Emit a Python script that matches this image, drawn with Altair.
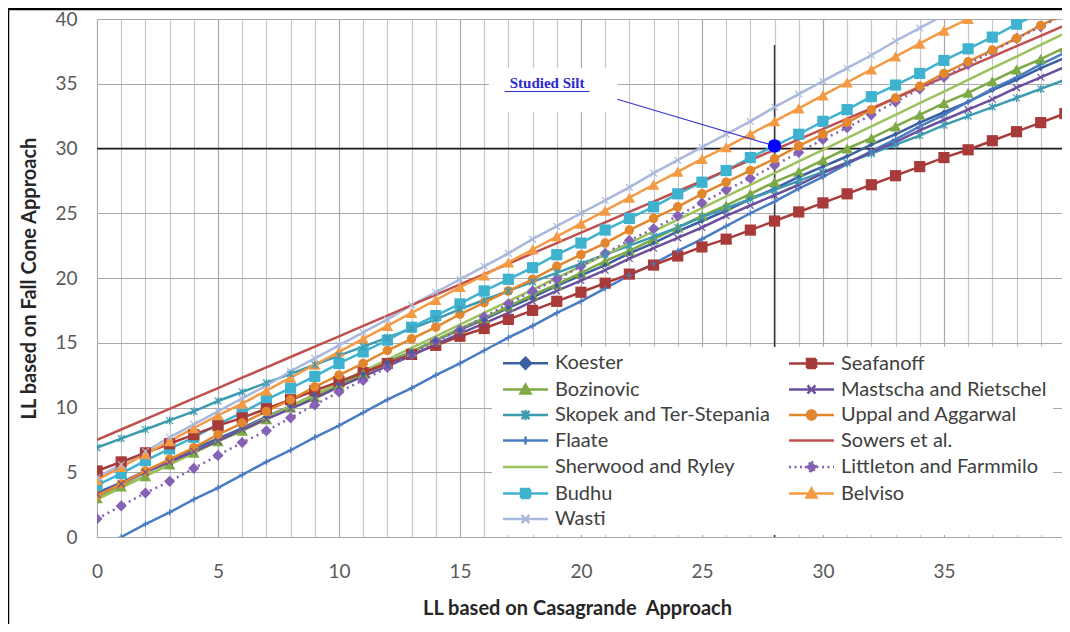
import altair as alt
import pandas as pd

# ---------------- data ----------------
XS = list(range(0, 41))
XS_FLAATE = list(range(1, 41))

KOESTER = [3.4, 4.2, 5.1, 5.9, 6.8, 7.6, 8.4, 9.3, 10.1, 11.0, 11.8, 12.6, 13.5, 14.3, 15.2, 16.0, 16.8,
           17.7, 18.5, 19.4, 20.2, 21.0, 21.9, 22.7, 23.6, 24.4, 25.2, 26.1, 26.9, 27.8, 28.6, 29.4,
           30.3, 31.1, 32.0, 32.8, 33.6, 34.5, 35.3, 36.2, 37.0]
SEAFANOFF = [5.1, 5.8, 6.5, 7.2, 7.9, 8.6, 9.2, 9.9, 10.6, 11.3, 12.0, 12.7, 13.4, 14.1, 14.8, 15.5, 16.1,
             16.8, 17.5, 18.2, 18.9, 19.6, 20.3, 21.0, 21.7, 22.4, 23.0, 23.7, 24.4, 25.1, 25.8, 26.5,
             27.2, 27.9, 28.6, 29.3, 29.9, 30.6, 31.3, 32.0, 32.7]
BOZINOVIC = [3.0, 3.9, 4.7, 5.6, 6.5, 7.4, 8.2, 9.1, 10.0, 10.8, 11.7, 12.6, 13.4, 14.3, 15.2, 16.1, 16.9,
             17.8, 18.7, 19.5, 20.4, 21.3, 22.1, 23.0, 23.9, 24.8, 25.6, 26.5, 27.4, 28.2, 29.1, 30.0,
             30.8, 31.7, 32.6, 33.5, 34.3, 35.2, 36.1, 36.9, 37.8]
MASTSCHA = [3.3, 4.1, 5.0, 5.8, 6.6, 7.4, 8.3, 9.1, 9.9, 10.7, 11.6, 12.4, 13.2, 14.0, 14.9, 15.7, 16.5,
            17.3, 18.2, 19.0, 19.8, 20.6, 21.5, 22.3, 23.1, 23.9, 24.8, 25.6, 26.4, 27.2, 28.1, 28.9,
            29.7, 30.5, 31.4, 32.2, 33.0, 33.8, 34.7, 35.5, 36.3]
SKOPEK = [6.9, 7.6, 8.3, 9.0, 9.7, 10.5, 11.2, 11.9, 12.6, 13.3, 14.0, 14.7, 15.4, 16.1, 16.8, 17.6, 18.3,
          19.0, 19.7, 20.4, 21.1, 21.8, 22.5, 23.2, 23.9, 24.7, 25.4, 26.1, 26.8, 27.5, 28.2, 28.9,
          29.6, 30.3, 31.0, 31.8, 32.5, 33.2, 33.9, 34.6, 35.3]
UPPAL = [3.2, 4.1, 5.1, 6.0, 6.9, 7.9, 8.8, 9.7, 10.6, 11.6, 12.5, 13.4, 14.4, 15.3, 16.2, 17.2, 18.1,
         19.0, 19.9, 20.9, 21.8, 22.7, 23.7, 24.6, 25.5, 26.5, 27.4, 28.3, 29.2, 30.2, 31.1, 32.0,
         33.0, 33.9, 34.8, 35.8, 36.7, 37.6, 38.5, 39.5, 40.4]
FLAATE = [0.0, 1.0, 1.9, 2.9, 3.8, 4.8, 5.8, 6.7, 7.7, 8.6, 9.6, 10.6, 11.5, 12.5, 13.4, 14.4, 15.4,
          16.3, 17.3, 18.2, 19.2, 20.2, 21.1, 22.1, 23.0, 24.0, 25.0, 25.9, 26.9, 27.8, 28.8, 29.8,
          30.7, 31.7, 32.6, 33.6, 34.6, 35.5, 36.5, 37.4]
SOWERS = [7.5, 8.3, 9.1, 9.9, 10.7, 11.5, 12.3, 13.1, 13.9, 14.7, 15.5, 16.3, 17.1, 17.9, 18.7, 19.5, 20.3,
          21.1, 21.9, 22.7, 23.5, 24.3, 25.1, 25.9, 26.7, 27.5, 28.3, 29.1, 29.9, 30.7, 31.5, 32.3,
          33.1, 33.9, 34.7, 35.5, 36.3, 37.1, 37.9, 38.7, 39.5]
SHERWOOD = [2.9, 3.8, 4.7, 5.6, 6.5, 7.4, 8.3, 9.2, 10.1, 11.0, 11.9, 12.8, 13.7, 14.6, 15.5, 16.4, 17.3,
            18.2, 19.1, 20.0, 20.9, 21.8, 22.7, 23.6, 24.5, 25.4, 26.3, 27.2, 28.1, 29.0, 29.9, 30.8,
            31.7, 32.6, 33.5, 34.4, 35.3, 36.2, 37.1, 38.0, 38.9]
LITTLETON = [1.4, 2.4, 3.4, 4.3, 5.3, 6.3, 7.3, 8.2, 9.2, 10.2, 11.2, 12.1, 13.1, 14.1, 15.1, 16.0, 17.0,
             18.0, 19.0, 19.9, 20.9, 21.9, 22.9, 23.8, 24.8, 25.8, 26.8, 27.7, 28.7, 29.7, 30.7, 31.6,
             32.6, 33.6, 34.6, 35.5, 36.5, 37.5, 38.5, 39.4, 40.4]
BUDHU = [4.0, 4.9, 5.9, 6.8, 7.7, 8.7, 9.6, 10.6, 11.5, 12.4, 13.4, 14.3, 15.2, 16.2, 17.1, 18.0, 19.0,
         19.9, 20.8, 21.8, 22.7, 23.7, 24.6, 25.5, 26.5, 27.4, 28.3, 29.3, 30.2, 31.1, 32.1, 33.0,
         34.0, 34.9, 35.8, 36.8, 37.7, 38.6, 39.6, 40.5, 41.4]
BELVISO = [4.4, 5.4, 6.4, 7.4, 8.4, 9.4, 10.3, 11.3, 12.3, 13.3, 14.3, 15.3, 16.3, 17.3, 18.3, 19.3, 20.2,
           21.2, 22.2, 23.2, 24.2, 25.2, 26.2, 27.2, 28.2, 29.2, 30.1, 31.1, 32.1, 33.1, 34.1, 35.1,
           36.1, 37.1, 38.1, 39.1, 40.0, 41.0, 42.0, 43.0, 44.0]
WASTI = [4.6, 5.6, 6.6, 7.7, 8.7, 9.7, 10.7, 11.7, 12.8, 13.8, 14.8, 15.8, 16.8, 17.9, 18.9, 19.9, 20.9,
         21.9, 23.0, 24.0, 25.0, 26.0, 27.0, 28.1, 29.1, 30.1, 31.1, 32.1, 33.2, 34.2, 35.2, 36.2,
         37.2, 38.3, 39.3, 40.3, 41.3, 42.3, 43.4, 44.4, 45.4]

# legend order: the legend fills its first column, then its second
NAMES = ["Koester", "Bozinovic", "Skopek and Ter-Stepania", "Flaate", "Sherwood and Ryley", "Budhu",
         "Wasti", "Seafanoff", "Mastscha and Rietschel", "Uppal and Aggarwal", "Sowers et al.",
         "Littleton and Farmmilo", "Belviso"]
XVALUES = [XS, XS, XS, XS_FLAATE, XS, XS, XS, XS, XS, XS, XS, XS, XS]
YVALUES = [KOESTER, BOZINOVIC, SKOPEK, FLAATE, SHERWOOD, BUDHU, WASTI, SEAFANOFF, MASTSCHA, UPPAL,
           SOWERS, LITTLETON, BELVISO]
COLORS = ["#3b5fa3", "#7eaa46", "#3c9bb0", "#4a7cc4", "#9cc25d", "#3fb2cf", "#a9b8dc", "#a83a3a",
          "#6a4f9c", "#e3872f", "#c0504d", "#8562b6", "#f49a44"]

# annotation values
STUDIED_X = [28]
STUDIED_Y = [30.2]
HLINE_Y = [30]
VLINE_X = [28]
VLINE_Y = [0, 38]
LEADER_X = [21.5, 28]
LEADER_Y = [33.8, 30.2]
LABEL_BOX_X = [16.2, 21.5]
LABEL_BOX_Y = [32.8, 36.2]
LABEL_TEXT = "Studied Silt"
LABEL_X = 18.6
LABEL_Y = 34.65
UNDERLINE_X = [16.85, 20.35]
UNDERLINE_Y = 34.4

X_TICKS = list(range(0, 41))
Y_TICKS = [0, 5, 10, 15, 20, 25, 30, 35, 40]
X_VISIBLE_MAX = 39.88   # the right edge of the picture cuts the plot just before 40

# ---------------- build tables ----------------
rows = []
for name, xs, ys in zip(NAMES, XVALUES, YVALUES):
    for xv, yv in zip(xs, ys):
        rows.append({"series": name, "x": xv, "y": yv})
df = pd.DataFrame(rows)
legend_df = pd.DataFrame({"series": NAMES, "x": [None] * len(NAMES), "y": [None] * len(NAMES)})

# colour scale for the drawn marks: same mapping, domain listed alphabetically so that
# Vega-Lite does not merge its (hidden) legend with the visible one
color_of = dict(zip(NAMES, COLORS))
MARK_DOMAIN = sorted(NAMES)
MARK_RANGE = [color_of[n] for n in MARK_DOMAIN]

FONT = "Lato"

XSCALE = alt.Scale(domain=[0, X_VISIBLE_MAX], nice=False, zero=False)
YSCALE = alt.Scale(domain=[0, 40], nice=False, zero=False)
XAXIS = alt.Axis(
    values=X_TICKS, labelExpr="datum.value % 5 === 0 ? datum.label : ''",
    grid=True,
    gridColor={"condition": {"test": "datum.value % 5 === 0", "value": "#a9a9a9"}, "value": "#c6c6c6"},
    gridWidth=1.2, domain=False, ticks=False, tickSize=0, labelPadding=25,
    labelFont=FONT, labelFontSize=19, labelColor="#595959", labelFlush=False, labelOverlap=False,
    title="LL based on Casagrande\u00a0 Approach", titleFont=FONT, titleFontSize=20,
    titleFontWeight="bold", titleColor="#262626", titlePadding=17, titleX=480,
)
YAXIS = alt.Axis(
    values=Y_TICKS, grid=True, gridColor="#a9a9a9", gridWidth=1.2, domain=False, ticks=False,
    tickSize=0, labelPadding=20, labelFont=FONT, labelFontSize=19, labelColor="#595959",
    labelFlush=False,
    title="LL based on Fall Cone Approach", titleFont=FONT, titleFontSize=20,
    titleFontWeight="bold", titleColor="#262626", titlePadding=15,
)


def X(field="x"):
    return alt.X(f"{field}:Q", scale=XSCALE, axis=XAXIS)


def Y(field="y"):
    return alt.Y(f"{field}:Q", scale=YSCALE, axis=YAXIS)


COLOR = alt.Color("series:N", scale=alt.Scale(domain=MARK_DOMAIN, range=MARK_RANGE), legend=None)

base = alt.Chart(df)

solid_lines = base.mark_line(strokeWidth=2.5, clip=True).encode(
    x=X(), y=Y(), color=COLOR, detail="series:N"
).transform_filter(alt.datum.series != "Littleton and Farmmilo")

dotted_line = base.mark_line(strokeWidth=2.5, clip=True, strokeDash=[2, 4]).encode(
    x=X(), y=Y(), color=COLOR
).transform_filter(alt.datum.series == "Littleton and Farmmilo")


def markers(names, shape, size, filled=True, sw=1.0):
    return base.mark_point(shape=shape, size=size, filled=filled, opacity=1, strokeWidth=sw,
                           clip=True).encode(
        x=X(), y=Y(), color=COLOR
    ).transform_filter(alt.FieldOneOfPredicate(field="series", oneOf=names))


XPATH = "M-1,-1L1,1M-1,1L1,-1"
ASTER = "M-1,-1L1,1M-1,1L1,-1M0,-1.2L0,1.2"
PLUS = "M-1,0L1,0M0,-1L0,1"

m_square = markers(["Seafanoff", "Budhu"], "square", 125)
m_tri = markers(["Bozinovic", "Belviso"], "triangle-up", 135)
m_diam = markers(["Littleton and Farmmilo"], "diamond", 125)
m_diam_k = markers(["Koester"], "diamond", 30)
m_circ = markers(["Uppal and Aggarwal"], "circle", 90)
m_x = markers(["Mastscha and Rietschel", "Wasti"], XPATH, 45, filled=False, sw=1.2)
m_ast = markers(["Skopek and Ter-Stepania"], ASTER, 45, filled=False, sw=1.2)
m_plus = markers(["Flaate"], PLUS, 40, filled=False, sw=1.2)

# ---------- legend (symbols = line + marker) ----------
LINE = "M-1,0L8,0"
DIAMOND = "M3.5,-1.1L4.6,0L3.5,1.1L2.4,0Z"
SQUARE = "M2.6,-0.9L4.4,-0.9L4.4,0.9L2.6,0.9Z"
TRIANGLE = "M3.5,-1L4.5,0.8L2.5,0.8Z"
XMARK = "M2.7,-0.8L4.3,0.8M2.7,0.8L4.3,-0.8"
ASTERISK = XMARK + "M3.5,-1L3.5,1"
CIRCLE = "M2.6,0A0.9,0.9,0,1,0,4.4,0A0.9,0.9,0,1,0,2.6,0Z"
PLUSMARK = "M3.5,-0.8L3.5,0.8"
LEG_SHAPE_OF = {
    "Koester": LINE + DIAMOND, "Bozinovic": LINE + TRIANGLE, "Skopek and Ter-Stepania": LINE + ASTERISK,
    "Flaate": LINE + PLUSMARK, "Sherwood and Ryley": LINE, "Budhu": LINE + SQUARE, "Wasti": LINE + XMARK,
    "Seafanoff": LINE + SQUARE, "Mastscha and Rietschel": LINE + XMARK, "Uppal and Aggarwal": LINE + CIRCLE,
    "Sowers et al.": LINE, "Littleton and Farmmilo": LINE + DIAMOND, "Belviso": LINE + TRIANGLE,
}
LEG_SHAPES = [LEG_SHAPE_OF[n] for n in NAMES]
DASHES = [[2, 3.5] if n == "Littleton and Farmmilo" else [1, 0] for n in NAMES]

LEG = alt.Legend(
    title=None, orient="none", legendX=395, legendY=328, columns=2, columnPadding=13,
    rowPadding=5.5, padding=6, fillColor="white", labelFont=FONT, labelFontSize=20,
    labelColor="#404040", labelOffset=37, labelLimit=400, symbolSize=100,
    symbolStrokeWidth=2.5,
)
legend_layer = alt.Chart(legend_df).mark_point(filled=True, size=100, strokeWidth=2.5, opacity=1).encode(
    x=X(), y=Y(),
    stroke=alt.Stroke("series:N", scale=alt.Scale(domain=NAMES, range=COLORS), legend=LEG),
    fill=alt.Fill("series:N", scale=alt.Scale(domain=NAMES, range=COLORS), legend=LEG),
    shape=alt.Shape("series:N", scale=alt.Scale(domain=NAMES, range=LEG_SHAPES), legend=LEG),
    strokeDash=alt.StrokeDash("series:N", scale=alt.Scale(domain=NAMES, range=DASHES), legend=LEG),
)

# ---------- annotations ----------
hline = alt.Chart(pd.DataFrame({"y": HLINE_Y})).mark_rule(color="#1a1a1a", strokeWidth=1.4).encode(y=Y())
vline = alt.Chart(pd.DataFrame({"x": VLINE_X, "y": [VLINE_Y[0]], "y2": [VLINE_Y[1]]})).mark_rule(
    color="#333333", strokeWidth=1.4).encode(x=X(), y=Y(), y2="y2:Q")
box = alt.Chart(pd.DataFrame({"x": [LABEL_BOX_X[0]], "x2": [LABEL_BOX_X[1]],
                              "y": [LABEL_BOX_Y[0]], "y2": [LABEL_BOX_Y[1]]})).mark_rect(
    fill="white").encode(x=X(), x2="x2:Q", y=Y(), y2="y2:Q")
leader = alt.Chart(pd.DataFrame({"x": LEADER_X, "y": LEADER_Y})).mark_line(
    color="#3b3bd0", strokeWidth=1.2).encode(x=X(), y=Y())
silt_pt = alt.Chart(pd.DataFrame({"x": STUDIED_X, "y": STUDIED_Y})).mark_circle(
    color="#0000ff", size=180, opacity=1).encode(x=X(), y=Y())
label = alt.Chart(pd.DataFrame({"x": [LABEL_X], "y": [LABEL_Y], "t": [LABEL_TEXT]})).mark_text(
    font="Liberation Serif", fontWeight="bold", fontSize=15, color="#2a2ad0",
    align="center", baseline="alphabetic").encode(x=X(), y=Y(), text="t:N")
underline = alt.Chart(pd.DataFrame({"x": [UNDERLINE_X[0]], "x2": [UNDERLINE_X[1]],
                                    "y": [UNDERLINE_Y]})).mark_rule(
    color="#2a2ad0", strokeWidth=1).encode(x=X(), x2="x2:Q", y=Y())

frame = alt.Chart(pd.DataFrame({"k": [0]})).mark_rect(
    fill="transparent", stroke="#000000", strokeWidth=2.5).encode(
    x=alt.value(-89), x2=alt.value(1200), y=alt.value(-10), y2=alt.value(800))

chart = alt.layer(
    hline, vline, box,
    solid_lines, dotted_line,
    m_square, m_tri, m_diam, m_diam_k, m_circ, m_x, m_ast, m_plus,
    legend_layer,
    leader, silt_pt, label, underline,
    frame,
).properties(
    width=965, height=518,
    padding={"left": 89, "top": 11, "right": 0, "bottom": 87},
    autosize=alt.AutoSizeParams(type="none"),
    background="white",
).configure_view(stroke=None)

chart.save("out.html", embed_options={"renderer": "svg", "actions": False})
